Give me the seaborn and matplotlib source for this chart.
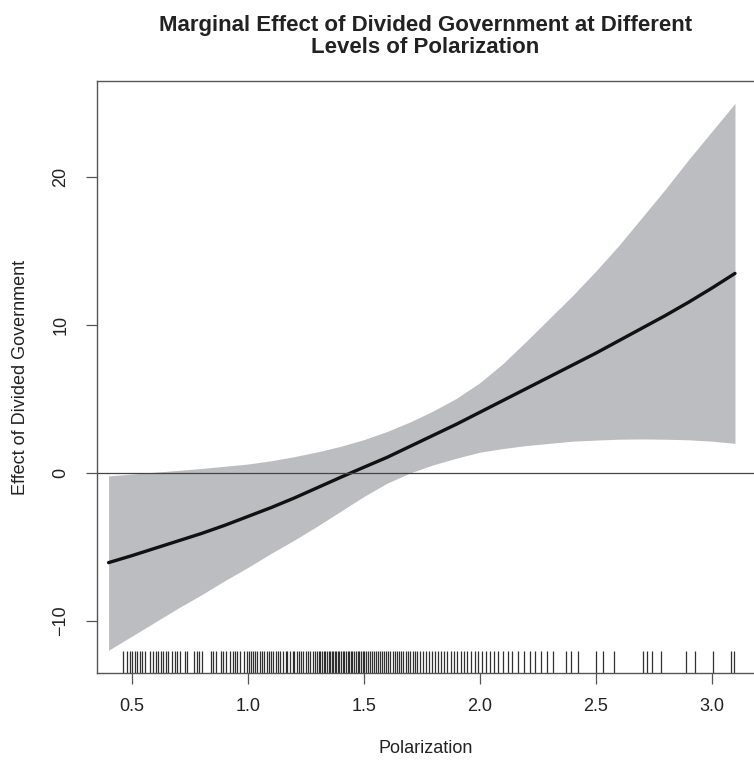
import numpy as np
import pandas as pd
import seaborn as sns
import matplotlib.pyplot as plt

# values
polarization = [0.4, 0.5, 0.6, 0.7, 0.8, 0.9, 1.0, 1.1, 1.2, 1.3, 1.4, 1.5, 1.6, 1.7,
                1.8, 1.9, 2.0, 2.1, 2.2, 2.3, 2.4, 2.5, 2.6, 2.7, 2.8, 2.9, 3.0, 3.1]
effect = [-6.07, -5.6, -5.1, -4.6, -4.1, -3.55, -2.95, -2.35, -1.7, -1.0, -0.3, 0.38, 1.05, 1.8,
          2.55, 3.3, 4.1, 4.9, 5.7, 6.5, 7.3, 8.1, 8.95, 9.8, 10.65, 11.55, 12.5, 13.5]
lower = [-12.0, -11.05, -10.1, -9.15, -8.25, -7.3, -6.4, -5.45, -4.55, -3.6, -2.6, -1.6, -0.7, 0.0,
         0.55, 1.0, 1.4, 1.65, 1.85, 2.0, 2.15, 2.22, 2.28, 2.3, 2.28, 2.24, 2.15, 2.0]
upper = [-0.2, -0.08, 0.05, 0.17, 0.3, 0.45, 0.6, 0.82, 1.1, 1.42, 1.8, 2.25, 2.8, 3.45,
         4.2, 5.05, 6.1, 7.4, 8.9, 10.45, 12.0, 13.65, 15.4, 17.3, 19.2, 21.2, 23.1, 25.0]

# observed polarization values shown as a rug
rug = [0.464, 0.481, 0.493, 0.503, 0.514, 0.524, 0.536, 0.543, 0.557, 0.579,
       0.590, 0.603, 0.615, 0.626, 0.636, 0.648, 0.658, 0.672, 0.687, 0.697,
       0.708, 0.730, 0.740, 0.769, 0.780, 0.790, 0.802, 0.841, 0.849, 0.863,
       0.884, 0.895, 0.906, 0.924, 0.935, 0.945, 0.955, 0.967, 0.984, 0.996,
       1.005, 1.013, 1.022, 1.030, 1.041, 1.052, 1.060, 1.071, 1.083, 1.091,
       1.102, 1.110, 1.121, 1.132, 1.140, 1.151, 1.163, 1.170, 1.182, 1.193,
       1.201, 1.212, 1.220, 1.231, 1.240, 1.252, 1.261, 1.270, 1.281, 1.290,
       1.298, 1.306, 1.312, 1.320, 1.327, 1.333, 1.341, 1.348, 1.355, 1.362,
       1.368, 1.375, 1.382, 1.389, 1.395, 1.402, 1.409, 1.416, 1.422, 1.430,
       1.437, 1.444, 1.451, 1.458, 1.466, 1.473, 1.480, 1.488, 1.495, 1.503,
       1.511, 1.519, 1.527, 1.535, 1.544, 1.553, 1.561, 1.570, 1.578, 1.587,
       1.596, 1.605, 1.615, 1.624, 1.633, 1.642, 1.652, 1.661, 1.671, 1.681,
       1.690, 1.700, 1.711, 1.721, 1.731, 1.742, 1.755, 1.768, 1.780, 1.793,
       1.806, 1.820, 1.833, 1.846, 1.860, 1.874, 1.889, 1.903, 1.918, 1.932,
       1.947, 1.962, 1.978, 1.993, 2.010, 2.027, 2.045, 2.062, 2.080, 2.100,
       2.120, 2.140, 2.165, 2.190, 2.215, 2.240, 2.265, 2.290, 2.317, 2.371,
       2.392, 2.425, 2.500, 2.533, 2.579, 2.703, 2.720, 2.741, 2.780, 2.888,
       2.928, 3.004, 3.082, 3.096]

df = pd.DataFrame({"polarization": polarization, "effect": effect,
                   "lower": lower, "upper": upper})

sns.set_style("ticks")
plt.rcParams["font.family"] = ["Liberation Sans", "DejaVu Sans"]

fig = plt.figure(figsize=(7.54, 7.61), dpi=100)
ax = fig.add_axes([0.1286, 0.1156, 0.8714, 0.778])

ax.fill_between(df["polarization"], df["lower"], df["upper"], color="#bcbdc0", linewidth=0)
sns.lineplot(data=df, x="polarization", y="effect", color="#111111", linewidth=2.4, ax=ax)
ax.axhline(0, color="#444444", linewidth=0.9)
sns.rugplot(x=rug, height=0.037, color="#1a1a1a", linewidth=0.9, alpha=0.9, ax=ax)

ax.set_xlim(0.35, 3.182)
ax.set_ylim(-13.54, 26.52)
ax.set_xticks([0.5, 1.0, 1.5, 2.0, 2.5, 3.0])
ax.set_yticks([-10, 0, 10, 20])

for side in ["left", "top", "bottom"]:
    ax.spines[side].set_color("#555555")
    ax.spines[side].set_linewidth(1.0)
ax.spines["right"].set_visible(False)

ax.tick_params(axis="both", length=8, width=0.9, color="#555555", labelsize=13,
               labelcolor="#222222")
ax.tick_params(axis="x", pad=10)
ax.tick_params(axis="y", pad=12, labelrotation=90)
for t in ax.get_yticklabels():
    t.set_va("center")

ax.set_xlabel("Polarization", fontsize=13, color="#222222", labelpad=18)
ax.set_ylabel("Effect of Divided Government", fontsize=13, color="#222222", labelpad=17)
ax.set_title("Marginal Effect of Divided Government at Different\nLevels of Polarization",
             fontsize=16, fontweight="bold", color="#222222", pad=20, linespacing=1.05)

fig.savefig("out.png", dpi=100)
